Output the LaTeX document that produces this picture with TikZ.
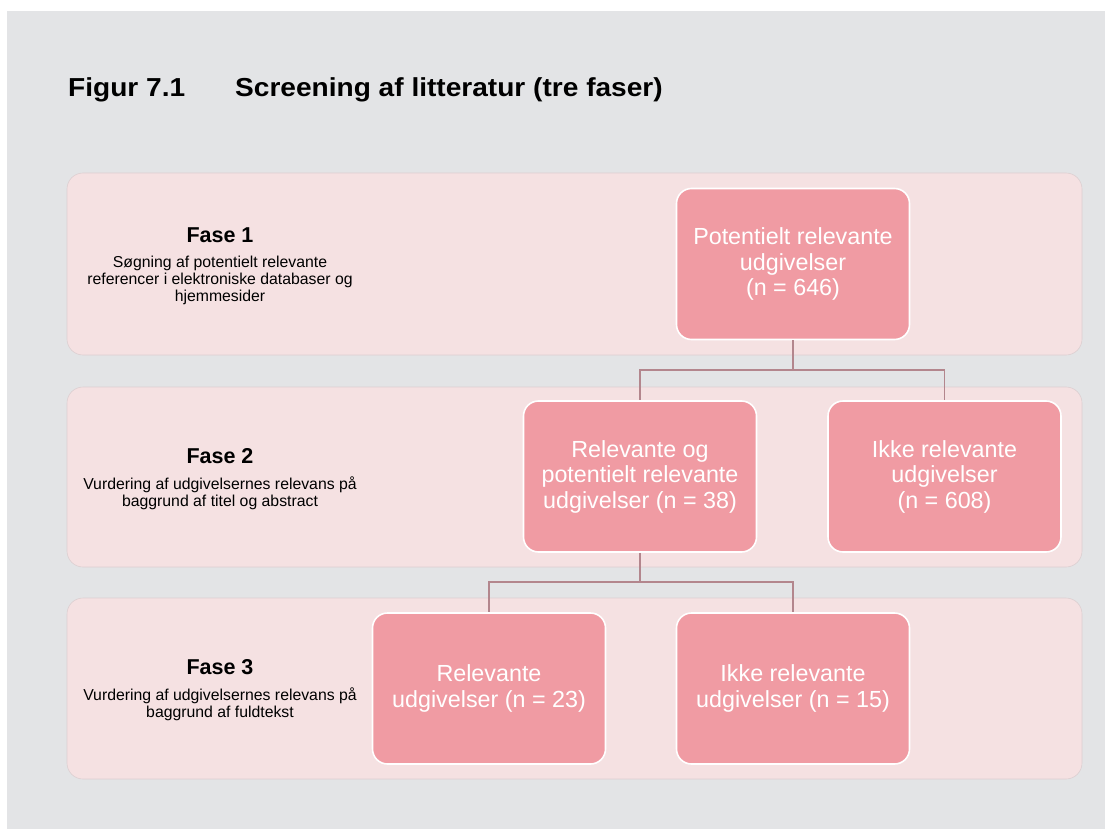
\documentclass[tikz,border=0pt]{standalone}
\usepackage{fontspec}
\setmainfont{Liberation Sans}
\newfontfamily\titlefont[FakeStretch=1.08]{Liberation Sans}
\begin{document}
\begin{tikzpicture}[x=1pt,y=-1pt,
  band/.style={fill=bandpink,draw=bandedge,line width=0.6pt,rounded corners=16pt},
  pbox/.style={fill=boxpink,draw=white,line width=1.6pt,rounded corners=15pt,
    minimum width=233pt,minimum height=151pt,align=center,text=white,
    font=\fontsize{23.3}{25.5}\selectfont,inner sep=2pt},
  conn/.style={draw=connmauve,line width=1.8pt},
  fasetitle/.style={anchor=base,inner sep=0pt,font=\fontsize{21.5}{24}\selectfont\bfseries},
  fasedesc/.style={anchor=north,inner sep=0pt,align=center,font=\fontsize{15.8}{17}\selectfont},
  figtitle/.style={anchor=base west,inner sep=0pt,font=\titlefont\fontsize{26}{30}\selectfont\bfseries}]
\definecolor{bgray}{HTML}{E3E4E6}
\definecolor{bandpink}{HTML}{F5E1E2}
\definecolor{bandedge}{HTML}{DCCFD1}
\definecolor{boxpink}{HTML}{F09BA3}
\definecolor{connmauve}{HTML}{B3868D}
\useasboundingbox (0,0) rectangle (1105,829);
\fill[white] (0,0) rectangle (1105,829);
\fill[bgray] (7,11) rectangle (1105,829);

\node[figtitle] (fig) at (68,97) {Figur 7.1};
\node[figtitle] (title) at (235,97) {Screening af litteratur (tre faser)};

\draw[band] (67,173) rectangle (1082,355);
\draw[band] (67,387) rectangle (1082,567);
\draw[band] (67,598) rectangle (1082,779);

\node[fasetitle] (f1) at (220,242) {Fase 1};
\node[fasedesc] (d1) at (220,256) {Søgning af potentielt relevante\\referencer i elektroniske databaser og\\hjemmesider};
\node[fasetitle] (f2) at (220,463) {Fase 2};
\node[fasedesc] (d2) at (220,477) {Vurdering af udgivelsernes relevans på\\baggrund af titel og abstract};
\node[fasetitle] (f3) at (220,674) {Fase 3};
\node[fasedesc] (d3) at (220,688) {Vurdering af udgivelsernes relevans på\\baggrund af fuldtekst};

\coordinate (j1) at (793,370);
\coordinate (j2) at (640,582);
\node[pbox] (A) at (793,264) {Potentielt relevante\\udgivelser\\(n = 646)};
\node[pbox] (B) at (640,476.5) {Relevante og\\potentielt relevante\\udgivelser (n = 38)};
\node[pbox] (C) at (944.5,476.5) {Ikke relevante\\udgivelser\\(n = 608)};
\node[pbox] (D) at (489,688.5) {Relevante\\udgivelser (n = 23)};
\node[pbox] (E) at (793,688.5) {Ikke relevante\\udgivelser (n = 15)};

\draw[conn] (A.south) -- (j1);
\draw[conn] (j1) -| (B.north);
\draw[conn] (j1) -| (C.north);
\draw[conn] (B.south) -- (j2);
\draw[conn] (j2) -| (D.north);
\draw[conn] (j2) -| (E.north);
\end{tikzpicture}
\end{document}
